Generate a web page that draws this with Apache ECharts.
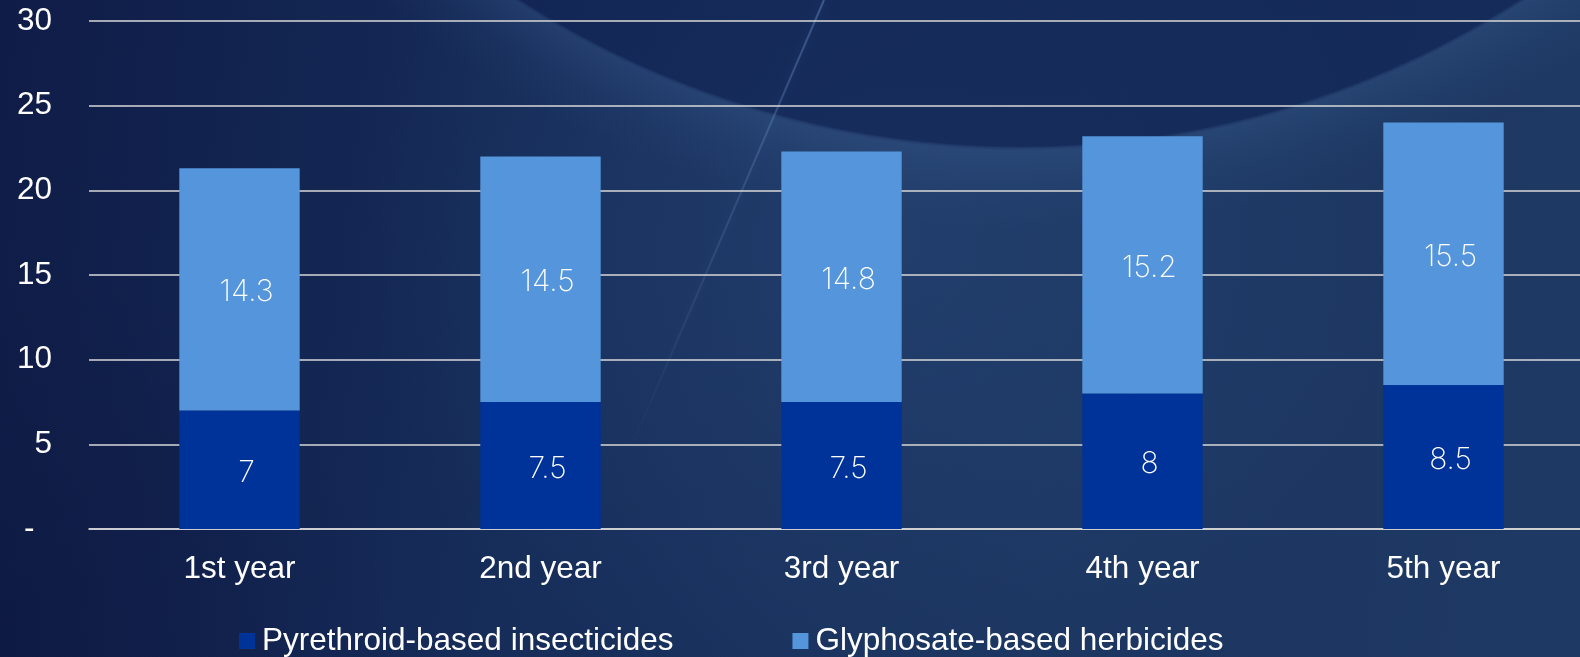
<!DOCTYPE html>
<html>
<head>
<meta charset="utf-8">
<script src="https://cdn.jsdelivr.net/npm/echarts@6/dist/echarts.min.js"></script>
<style>
  html, body { margin: 0; padding: 0; background: #142a57; }
  #chart { width: 1580px; height: 657px; }
</style>
</head>
<body>
<div id="chart"></div>
<script>
// Market split by product type over five years
const categories = ['1st year', '2nd year', '3rd year', '4th year', '5th year'];
const seriesNames = ['Pyrethroid-based insecticides', 'Glyphosate-based herbicides'];
const pyrethroid = [7, 7.5, 7.5, 8, 8.5];
const glyphosate = [14.3, 14.5, 14.8, 15.2, 15.5];
const yTicks = [0, 5, 10, 15, 20, 25, 30];

const axisFont = 'Liberation Sans, Arial, sans-serif';
const valueFont = 'Inter, Lato, sans-serif';

const chart = echarts.init(document.getElementById('chart'), null, { renderer: 'canvas' });

const valueLabel = {
  show: true, position: 'inside', offset: [7, 3],
  color: '#ffffff', fontFamily: valueFont, fontWeight: 200, fontSize: 30
};

const option = {
  animation: false,
  backgroundColor: 'transparent',
  graphic: {
    elements: [
      {
        // navy slide backdrop
        type: 'rect', z: -20, silent: true,
        shape: { x: 0, y: 0, width: 1580, height: 657 },
        style: {
          fill: {
            type: 'linear', x: 0, y: 0, x2: 1, y2: 0.3,
            colorStops: [
              { offset: 0, color: '#0f1c47' },
              { offset: 0.35, color: '#162c59' },
              { offset: 0.7, color: '#1b3560' },
              { offset: 1, color: '#1e3964' }
            ]
          }
        }
      },
      {
        // soft lighter zone below the arc
        type: 'circle', z: -19, silent: true,
        shape: { cx: 880, cy: 240, r: 520 },
        style: {
          fill: {
            type: 'radial', x: 0.5, y: 0.5, r: 0.5,
            colorStops: [
              { offset: 0, color: 'rgba(50,85,135,0.35)' },
              { offset: 1, color: 'rgba(50,85,135,0)' }
            ]
          }
        }
      },
      {
        // large dark arc with a faint lit rim
        type: 'circle', z: -18, silent: true,
        shape: { cx: 1020, cy: -778, r: 1010 },
        style: {
          fill: {
            type: 'radial', x: 0.5, y: 0.5, r: 0.5,
            colorStops: [
              { offset: 0, color: 'rgba(14,32,80,0.6)' },
              { offset: 0.915, color: 'rgba(14,32,80,0.55)' },
              { offset: 0.921, color: 'rgba(80,120,175,0.18)' },
              { offset: 0.96, color: 'rgba(70,110,165,0.07)' },
              { offset: 1, color: 'rgba(70,110,165,0)' }
            ]
          }
        }
      },
      {
        // faint streak, fading downwards
        type: 'line', z: -17, silent: true,
        shape: { x1: 824, y1: 0, x2: 630, y2: 450 },
        style: {
          stroke: {
            type: 'linear', x: 0, y: 0, x2: 0, y2: 1,
            colorStops: [
              { offset: 0, color: 'rgba(130,170,225,0.35)' },
              { offset: 0.5, color: 'rgba(120,160,215,0.18)' },
              { offset: 1, color: 'rgba(120,160,215,0)' }
            ]
          },
          lineWidth: 2, shadowBlur: 8, shadowColor: 'rgba(120,160,215,0.35)'
        }
      },
      {
        // darker vignette at lower left
        type: 'rect', z: -16, silent: true,
        shape: { x: 0, y: 0, width: 1580, height: 657 },
        style: {
          fill: {
            type: 'radial', x: 0, y: 1, r: 0.6,
            colorStops: [
              { offset: 0, color: 'rgba(12,22,62,0.5)' },
              { offset: 1, color: 'rgba(12,22,62,0)' }
            ]
          }
        }
      }
    ]
  },
  grid: { left: 89, top: 21, width: 1505, height: 508, containLabel: false, outerBoundsMode: 'none' },
  legend: {
    data: seriesNames,
    left: 234,
    top: 620,
    itemWidth: 16,
    itemHeight: 16,
    itemGap: 119,
    icon: 'rect',
    textStyle: { color: '#ffffff', fontFamily: axisFont, fontSize: 31.5, padding: [0, 0, 0, 2] }
  },
  xAxis: {
    type: 'category',
    data: categories,
    axisLine: { show: true, lineStyle: { color: '#d9d9d9', width: 1.6 } },
    axisTick: { show: false },
    axisLabel: { color: '#ffffff', fontFamily: axisFont, fontSize: 31.5, margin: 24 }
  },
  yAxis: {
    type: 'value',
    min: yTicks[0],
    max: yTicks[yTicks.length - 1],
    interval: 5,
    axisLine: { show: false },
    axisTick: { show: false },
    splitLine: { lineStyle: { color: '#d9d9d9', width: 1.6 } },
    axisLabel: {
      color: '#ffffff', fontFamily: axisFont, fontSize: 31.5, margin: 37,
      formatter: v => (v === 0 ? '-  ' : String(v))
    }
  },
  series: [
    {
      name: seriesNames[0],
      type: 'bar',
      stack: 'total',
      data: pyrethroid,
      barWidth: '40%',
      itemStyle: { color: '#003399' },
      label: valueLabel
    },
    {
      name: seriesNames[1],
      type: 'bar',
      stack: 'total',
      data: glyphosate,
      barWidth: '40%',
      itemStyle: { color: '#5595db' },
      label: valueLabel
    }
  ]
};

chart.setOption(option);
</script>
</body>
</html>
